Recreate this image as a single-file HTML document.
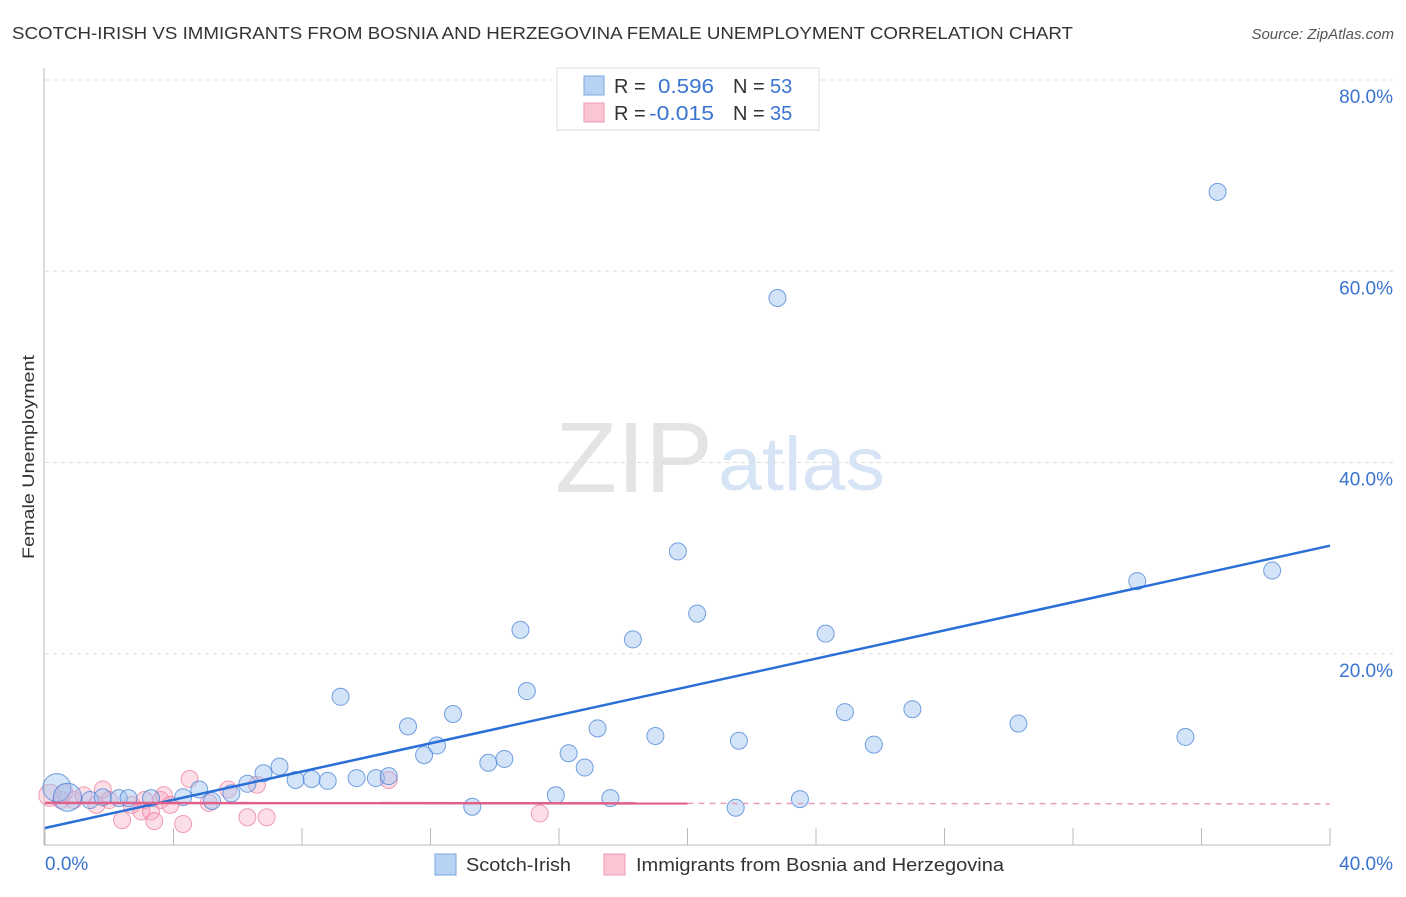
<!DOCTYPE html>
<html><head><meta charset="utf-8">
<style>
body{margin:0;background:#fff;font-family:"Liberation Sans",sans-serif;}
svg text{font-family:"Liberation Sans",sans-serif;}
</style></head>
<body>
<svg id="chart" width="1406" height="892">
<text x="12" y="39" font-size="17.5" fill="#333" textLength="1061" lengthAdjust="spacingAndGlyphs">SCOTCH-IRISH VS IMMIGRANTS FROM BOSNIA AND HERZEGOVINA FEMALE UNEMPLOYMENT CORRELATION CHART</text>
<text x="1394" y="39" font-size="15" fill="#555" font-style="italic" text-anchor="end">Source: ZipAtlas.com</text>
<text x="555" y="492" font-size="100" fill="#e4e4e4" font-family="Liberation Serif" textLength="158" lengthAdjust="spacingAndGlyphs">ZIP</text>
<text x="718" y="490" font-size="76" fill="#d6e4f5" textLength="167" lengthAdjust="spacingAndGlyphs">atlas</text>
<g id="grid"></g>
<g id="pts"></g>
<g id="lines"></g>
<text transform="translate(34,457) rotate(-90)" font-size="17" fill="#333" text-anchor="middle" textLength="204" lengthAdjust="spacingAndGlyphs">Female Unemployment</text>
<g>
<rect x="557" y="68" width="262" height="62" fill="#fff" stroke="#ddd"/>
<rect x="584" y="76" width="20" height="19" fill="#b8d2f4" stroke="#7aa7e0"/>
<text x="614" y="93" font-size="20" fill="#333">R =</text><text x="658" y="93" font-size="20" fill="#3a74d0" textLength="56" lengthAdjust="spacingAndGlyphs">0.596</text>
<text x="733" y="93" font-size="20" fill="#333">N =</text><text x="770" y="93" font-size="20" fill="#3a74d0">53</text>
<rect x="584" y="103" width="20" height="19" fill="#fbc6d4" stroke="#ee9ab1"/>
<text x="614" y="120" font-size="20" fill="#333">R =</text><text x="649" y="120" font-size="20" fill="#3a74d0" textLength="65" lengthAdjust="spacingAndGlyphs">-0.015</text>
<text x="733" y="120" font-size="20" fill="#333">N =</text><text x="770" y="120" font-size="20" fill="#3a74d0">35</text>
</g>
<g>
<rect x="435" y="854" width="21" height="21" fill="#b8d2f4" stroke="#7aa7e0"/>
<text x="466" y="871" font-size="18" fill="#333" textLength="105" lengthAdjust="spacingAndGlyphs">Scotch-Irish</text>
<rect x="604" y="854" width="21" height="21" fill="#fbc6d4" stroke="#ee9ab1"/>
<text x="636" y="871" font-size="18" fill="#333" textLength="368" lengthAdjust="spacingAndGlyphs">Immigrants from Bosnia and Herzegovina</text>
</g>
</svg>
<script>
const yTicks=[20,40,60,80];
const yTickLabels=["20.0%","40.0%","60.0%","80.0%"];
const xTickVals=[0,4,8,12,16,20,24,28,32,36,40];
const xEndLabels=["0.0%","40.0%"];
const blueX=[0.37,0.7,1.4,1.8,2.3,2.6,3.3,4.3,4.8,5.2,5.8,6.3,6.8,7.3,7.8,8.3,8.8,9.2,9.7,10.3,10.7,11.3,11.8,12.2,12.7,13.3,13.8,14.3,14.8,15.0,15.9,16.3,16.8,17.2,17.6,18.3,19.0,19.7,20.3,21.5,21.6,22.8,23.5,24.3,24.9,25.8,27.0,30.3,34.0,35.5,36.5,38.2];
const blueY=[6.0,5.0,4.7,5.0,4.9,4.9,4.9,5.0,5.8,4.6,5.4,6.4,7.5,8.2,6.8,6.9,6.7,15.5,7.0,7.0,7.2,12.4,9.4,10.4,13.7,4.0,8.6,9.0,22.5,16.1,5.2,9.6,8.1,12.2,4.9,21.5,11.4,30.7,24.2,3.9,10.9,57.2,4.8,22.1,13.9,10.5,14.2,12.7,27.6,11.3,68.3,28.7];
const pinkX=[0.15,0.5,0.6,0.9,1.2,1.6,1.8,2.0,2.4,2.7,3.0,3.1,3.3,3.4,3.6,3.7,3.9,4.3,4.5,5.1,5.7,6.3,6.6,6.9,10.7,15.4];
const pinkY=[5.2,4.7,5.5,4.7,5.2,4.2,5.8,4.7,2.6,4.2,3.5,4.7,3.5,2.5,4.7,5.2,4.2,2.2,6.9,4.4,5.8,2.9,6.3,2.9,6.8,3.3];
const blueFit=[1.78,31.3];
const pinkFit=[4.4,4.3];
const X0=45,X1=1330,Y0=845,Y80=80;
const sx=v=>X0+v*(X1-X0)/40;
const sy=v=>Y0-v*(Y0-Y80)/80;
const NS="http://www.w3.org/2000/svg";
function mk(tag,attrs,parent){const e=document.createElementNS(NS,tag);for(const k in attrs)e.setAttribute(k,attrs[k]);parent.appendChild(e);return e;}
const grid=document.getElementById('grid');
yTicks.forEach((t,i)=>{
 const l=mk('line',{x1:X0,x2:1394,y1:sy(t),y2:sy(t),stroke:'#ddd','stroke-dasharray':'4,4'},grid);
 
 
 const tx=mk('text',{x:1393,y:sy(t)+23,'font-size':19,fill:'#3a74d0','text-anchor':'end'},grid);
 tx.textContent=yTickLabels[i];
 
 
});
const ax=mk('line',{x1:X0-1,x2:X0-1,y1:68,y2:Y0,stroke:'#bbb'},grid);


const bx=mk('line',{x1:X0-1,x2:X1,y1:Y0,y2:Y0,stroke:'#bbb'},grid);


xTickVals.forEach(t=>{
 const l=mk('line',{x1:sx(t),x2:sx(t),y1:Y0-17,y2:Y0,stroke:'#bbb'},grid);
 
 
});
[[0,'start',45],[40,'end',1393]].forEach((a,i)=>{
 const tx=mk('text',{x:a[2],y:870,'font-size':19,fill:'#3a74d0','text-anchor':a[1]},grid);
 tx.textContent=xEndLabels[i];
 
 
});
const pts=document.getElementById('pts');
pinkX.forEach((x,i)=>{
 const c=mk('circle',{cx:sx(x),cy:sy(pinkY[i]),r:i==0?11:8.5,fill:'rgba(245,160,185,0.35)',stroke:'rgba(232,120,155,0.7)','stroke-width':1},pts);
 
 
});
blueX.forEach((x,i)=>{
 const c=mk('circle',{cx:sx(x),cy:sy(blueY[i]),r:i<2?14:8.5,fill:'rgba(160,195,240,0.45)',stroke:'rgba(70,130,215,0.75)','stroke-width':1},pts);
 
 
});
const lines=document.getElementById('lines');
const bl=mk('line',{x1:sx(0),y1:sy(blueFit[0]),x2:sx(40),y2:sy(blueFit[1]),stroke:'#2a6fd6','stroke-width':2.5},lines);


const pm=pinkFit[0]+(pinkFit[1]-pinkFit[0])*0.5;
const pl=mk('line',{x1:sx(0),y1:sy(pinkFit[0]),x2:sx(20),y2:sy(pm),stroke:'#e0608a','stroke-width':2.5},lines);


const pd=mk('line',{x1:sx(20),y1:sy(pm),x2:sx(40),y2:sy(pinkFit[1]),stroke:'#e8a0b8','stroke-width':1.5,'stroke-dasharray':'6,5'},lines);


</script>
</body></html>
